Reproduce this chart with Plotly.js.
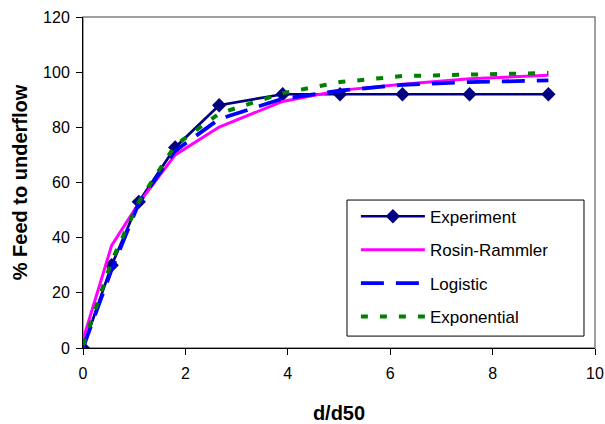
<!DOCTYPE html>
<html>
<head>
<meta charset="utf-8">
<script src="https://cdn.plot.ly/plotly-3.0.1.min.js"></script>
<style>html,body{margin:0;padding:0;background:#fff;}#chart{width:605px;height:424px;}</style>
</head>
<body>
<div id="chart"></div>
<script>
// d/d50 values (x)
const dRatio = [0, 0.56, 1.09, 1.80, 2.66, 3.90, 5.02, 6.24, 7.55, 9.09];
// % feed to underflow
const experiment   = [0, 30, 53, 72.7, 88, 92, 92, 92, 92, 92];
const rosinRammler = [3, 37.2, 52.5, 70, 80.1, 89.4, 93.4, 95.6, 97.6, 98.9];
const logistic     = [0, 28.5, 52.5, 71.5, 83, 90.4, 93.3, 95.4, 96.4, 97.0];
const exponential  = [1, 31.5, 53, 73.5, 85, 92.4, 96.4, 98.6, 99.1, 99.7];
const seriesNames = ["Experiment", "Rosin-Rammler", "Logistic", "Exponential"];
const xTicks = [0, 2, 4, 6, 8, 10];
const yTicks = [0, 20, 40, 60, 80, 100, 120];

const FONT = "Liberation Sans, Arial, sans-serif";

const traces = [
  {x: dRatio, y: experiment, name: seriesNames[0], mode: "lines+markers", legendgroup: "a",
   line: {color: "#000080", width: 2.7}, marker: {symbol: "diamond", size: 11, color: "#000080"}},
  {x: dRatio, y: rosinRammler, name: seriesNames[1], mode: "lines", legendgroup: "b",
   line: {color: "#FF00FF", width: 3}},
  {x: dRatio, y: logistic, name: seriesNames[2], mode: "lines", legendgroup: "c",
   line: {color: "#0000FF", width: 3.8, dash: "23px,12px"}},
  {x: dRatio, y: exponential, name: seriesNames[3], mode: "lines", legendgroup: "d",
   line: {color: "#008000", width: 4, dash: "7px,12px"}}
];

const layout = {
  width: 605, height: 424,
  margin: {l: 83, r: 10, t: 17, b: 76},
  paper_bgcolor: "#fff", plot_bgcolor: "#fff",
  font: {family: FONT, size: 16, color: "#000"},
  showlegend: true,
  legend: {
    x: 0.533, y: 0.451, xanchor: "left", yanchor: "top",
    bgcolor: "rgba(0,0,0,0)", borderwidth: 0,
    font: {family: FONT, size: 17, color: "#000"},
    traceorder: "grouped", tracegroupgap: 8.3, itemwidth: 64
  },
  xaxis: {
    range: [0, 10], tickvals: xTicks, ticktext: xTicks.map(String),
    showgrid: false, zeroline: false, showline: true, linecolor: "#000", linewidth: 1,
    ticks: "outside", ticklen: 6, tickcolor: "#000", ticklabelstandoff: 5,
    tickfont: {family: FONT, size: 16},
    title: {text: "<b>d/d50</b>", font: {family: FONT, size: 20}, standoff: 29}
  },
  yaxis: {
    range: [0, 120], tickvals: yTicks, ticktext: yTicks.map(String),
    showgrid: false, zeroline: false, showline: true, linecolor: "#000", linewidth: 1,
    ticks: "outside", ticklen: 6, tickcolor: "#000", ticklabelstandoff: 3,
    tickfont: {family: FONT, size: 16},
    title: {text: "<b>% Feed to underflow</b>", font: {family: FONT, size: 20}, standoff: 10}
  },
  shapes: [
    {type: "rect", xref: "paper", yref: "paper", x0: 0, x1: 1, y0: 0, y1: 1,
     line: {color: "#808080", width: 1.5}, layer: "below"},
    // legend frame
    {type: "rect", xref: "paper", yref: "paper", x0: 0.5156, x1: 0.9785, y0: 0.036, y1: 0.447,
     line: {color: "#000", width: 1}, fillcolor: "#fff", layer: "above"}
  ],
  hovermode: false
};

Plotly.newPlot("chart", traces, layout, {staticPlot: true, displayModeBar: false});
</script>
</body>
</html>
